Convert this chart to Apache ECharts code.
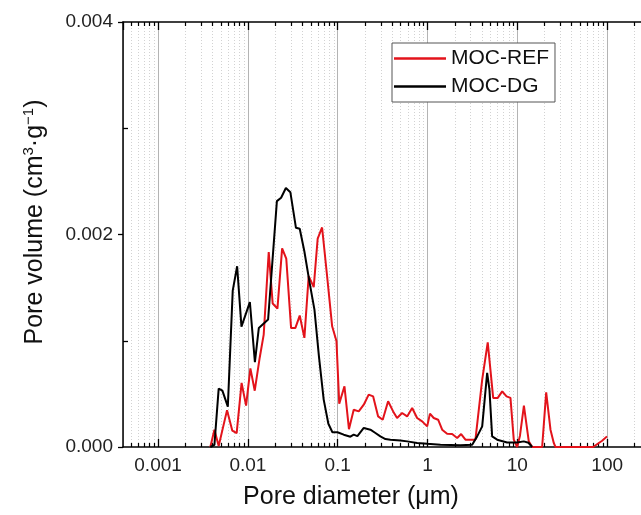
<!DOCTYPE html>
<html><head><meta charset="utf-8">
<script src="https://cdn.jsdelivr.net/npm/echarts@6/dist/echarts.min.js"></script>
<style>html,body{margin:0;padding:0;background:#fff}#c{width:641px;height:515px}</style>
</head><body><div id="c"></div><script>
// MOC-REF (red) : pore diameter (µm) and pore volume (cm3/g)
const refDiameter = [0.00382,0.00424,0.00473,0.00586,0.00671,0.0075,0.00851,0.00955,0.01066,0.01192,0.01352,0.015,0.01706,0.01888,0.02133,0.02405,0.02674,0.03027,0.03381,0.03777,0.04256,0.04753,0.05408,0.05984,0.06699,0.07621,0.0867,0.09683,0.104,0.1189,0.1334,0.1507,0.1714,0.195,0.2213,0.2477,0.2818,0.317,0.364,0.414,0.4581,0.5212,0.5929,0.6745,0.7656,0.871,0.991,1.064,1.172,1.312,1.455,1.652,1.879,2.138,2.366,2.642,3.414,4.06,4.68,5.38,6.05,6.78,7.57,8.38,9.12,9.95,10.69,11.83,13.4,14.62,18.88,20.94,23.38,25.43,26.57,69.8,78.5,87.9,99.5];
const refVolume = [0,0.000163,0.00001,0.000347,0.000154,0.00013,0.000603,0.000389,0.00074,0.00053,0.000838,0.001058,0.001835,0.00135,0.001303,0.00187,0.001774,0.001119,0.001121,0.001237,0.001027,0.001609,0.001505,0.001962,0.002066,0.001607,0.001136,0.000997,0.000408,0.000571,0.000168,0.000351,0.000335,0.000398,0.000493,0.000477,0.000288,0.000257,0.00043,0.000335,0.000273,0.00032,0.000288,0.000367,0.000273,0.000241,0.000194,0.000314,0.000273,0.000257,0.000163,0.000125,0.000122,0.000085,0.000122,0.000069,0.000069,0.000634,0.000985,0.000462,0.000462,0.000524,0.000477,0.000462,0.000069,0,0.000106,0.000389,0.000053,0,0,0.000514,0.000163,0.000038,0,0,0.000031,0.000059,0.0001];
// MOC-DG (black)
const dgDiameter = [0.00382,0.00424,0.00473,0.0052,0.00598,0.00678,0.00759,0.00848,0.01052,0.01197,0.01324,0.01679,0.02103,0.02344,0.02648,0.0297,0.03428,0.03777,0.04256,0.04842,0.05508,0.0618,0.06982,0.0787,0.0873,0.0993,0.1167,0.1384,0.1507,0.1656,0.195,0.2312,0.263,0.2985,0.3396,0.3864,0.4989,0.5929,0.7656,0.991,1.393,2.32,3.14,3.57,4.06,4.61,4.89,5.24,5.96,7.69,9.95,11.78,13.3,14.62];
const dgVolume = [0,0.00002,0.000549,0.00053,0.00038,0.001472,0.001701,0.001133,0.001364,0.000799,0.001121,0.001199,0.002314,0.002346,0.002438,0.002398,0.002063,0.002054,0.00184,0.001557,0.001293,0.000853,0.000446,0.000219,0.000139,0.000139,0.000116,0.000097,0.000116,0.000102,0.000179,0.000163,0.000132,0.0001,0.000075,0.000069,0.000062,0.000053,0.000038,0.000031,0.000022,0.000017,0.000022,0.0001,0.000194,0.000697,0.00054,0.0001,0.000069,0.000043,0.000043,0.000053,0.00004,0];

const seriesNames = ['MOC-REF', 'MOC-DG'];
const xTickLabels = {'-3':'0.001','-2':'0.01','-1':'0.1','0':'1','1':'10','2':'100','3':'1000'};
const xMinorTicks = [0.0005,0.0006,0.0007,0.0008,0.0009,
  0.002,0.003,0.004,0.005,0.006,0.007,0.008,0.009,
  0.02,0.03,0.04,0.05,0.06,0.07,0.08,0.09,
  0.2,0.3,0.4,0.5,0.6,0.7,0.8,0.9,
  2,3,4,5,6,7,8,9,
  20,30,40,50,60,70,80,90,
  200,300,400,500,600,700,800,900];
const yMinorTicks = [0.001, 0.003];
const xMin = 0.000407, xMax = 1000;
const yMin = 0, yMax = 0.004, yInterval = 0.002;

const FONT = '"Liberation Sans", Arial, sans-serif';
const chart = echarts.init(document.getElementById('c'), null, {renderer: 'canvas'});

function xLabel(v) {
  const l = Math.log10(v);
  const r = Math.round(l);
  if (Math.abs(l - r) > 1e-6) return '';
  return xTickLabels[String(r)] || '';
}

const option = {
  animation: false,
  backgroundColor: '#fff',
  grid: {left: 123, top: 22, bottom: 68, right: -56, outerBoundsMode: 'none', containLabel: false},
  legend: {
    data: seriesNames,
    orient: 'vertical',
    left: 392, top: 43,
    icon: 'rect',
    itemWidth: 52, itemHeight: 2.5, itemGap: 7,
    padding: [5, 6, 5, 2],
    borderColor: '#555', borderWidth: 1, backgroundColor: '#fff',
    textStyle: {fontSize: 21, color: '#111', fontFamily: FONT},
    selectedMode: false
  },
  xAxis: [{
    type: 'log', logBase: 10, min: xMin, max: xMax, position: 'bottom',
    axisLine: {show: true, lineStyle: {color: '#000', width: 1.5}},
    axisTick: {show: true, inside: true, length: 8, lineStyle: {color: '#000', width: 1.3}},
    axisLabel: {show: true, formatter: xLabel, fontSize: 19, color: '#222', fontFamily: FONT, margin: 9, interval: 0, showMinLabel: false},
    splitLine: {show: true, lineStyle: {color: '#b4b4b4', width: 1}},
    minorTick: {show: false}
  }, {
    type: 'log', logBase: 10, min: xMin, max: xMax, position: 'top',
    axisLine: {show: true, lineStyle: {color: '#000', width: 1.5}},
    axisTick: {show: true, inside: true, length: 8, lineStyle: {color: '#000', width: 1.3}},
    axisLabel: {show: false},
    splitLine: {show: false}
  }],
  yAxis: {
    type: 'value', min: yMin, max: yMax, interval: yInterval,
    axisLine: {show: true, lineStyle: {color: '#000', width: 1.5}},
    axisTick: {show: true, inside: false, length: 5, lineStyle: {color: '#000', width: 1.3}},
    axisLabel: {formatter: v => v.toFixed(3), fontSize: 19, color: '#222', fontFamily: FONT, margin: 10},
    splitLine: {show: false}
  },
  graphic: [{
    type: 'text', x: 351, y: 497,
    style: {text: 'Pore diameter (μm)', font: '25px ' + FONT, fill: '#111', align: 'center', verticalAlign: 'middle'}
  }, {
    type: 'text', x: 35, y: 222, rotation: Math.PI / 2,
    style: {
      text: '{a|Pore volume (cm}{s|3}{a|·g}{s|−1}{a|)}',
      align: 'center', verticalAlign: 'middle',
      rich: {
        a: {fontSize: 25, fontFamily: FONT, fill: '#111', color: '#111'},
        s: {fontSize: 15, fontFamily: FONT, fill: '#111', color: '#111', verticalAlign: 'top', padding: [0, 0, 12, 0]}
      }
    }
  }],
  series: [{
    type: 'custom', name: 'xminor', silent: true, z: 1,
    coordinateSystem: 'cartesian2d',
    data: xMinorTicks.map(v => [v, yInterval]),
    encode: {x: 0, y: 1},
    renderItem: function (params, api) {
      const cs = params.coordSys;
      const x = Math.round(api.coord([api.value(0), api.value(1)])[0]) + 0.5;
      const top = cs.y, bottom = cs.y + cs.height;
      return {type: 'group', children: [
        {type: 'line', shape: {x1: x, y1: top, x2: x, y2: bottom}, style: {stroke: '#d2d2d2', lineWidth: 1, lineDash: [1, 2]}},
        {type: 'line', shape: {x1: x, y1: bottom, x2: x, y2: bottom - 4}, style: {stroke: '#000', lineWidth: 1.2}},
        {type: 'line', shape: {x1: x, y1: top, x2: x, y2: top + 4}, style: {stroke: '#000', lineWidth: 1.2}}
      ]};
    }
  }, {
    type: 'custom', name: 'yminor', silent: true, z: 1,
    coordinateSystem: 'cartesian2d',
    data: yMinorTicks.map(v => [1, v]),
    encode: {x: 0, y: 1},
    renderItem: function (params, api) {
      const cs = params.coordSys;
      const y = Math.round(api.coord([api.value(0), api.value(1)])[1]) + 0.5;
      return {type: 'line', shape: {x1: cs.x, y1: y, x2: cs.x + 5, y2: y}, style: {stroke: '#000', lineWidth: 1.3}};
    }
  }, {
    type: 'line', name: seriesNames[0], z: 3,
    data: refDiameter.map((d, i) => [d, refVolume[i]]),
    symbol: 'none', showSymbol: false,
    lineStyle: {color: '#e3131b', width: 2},
    itemStyle: {color: '#e3131b'}
  }, {
    type: 'line', name: seriesNames[1], z: 4,
    data: dgDiameter.map((d, i) => [d, dgVolume[i]]),
    symbol: 'none', showSymbol: false,
    lineStyle: {color: '#000', width: 2},
    itemStyle: {color: '#000'}
  }]
};
chart.setOption(option);
</script></body></html>
